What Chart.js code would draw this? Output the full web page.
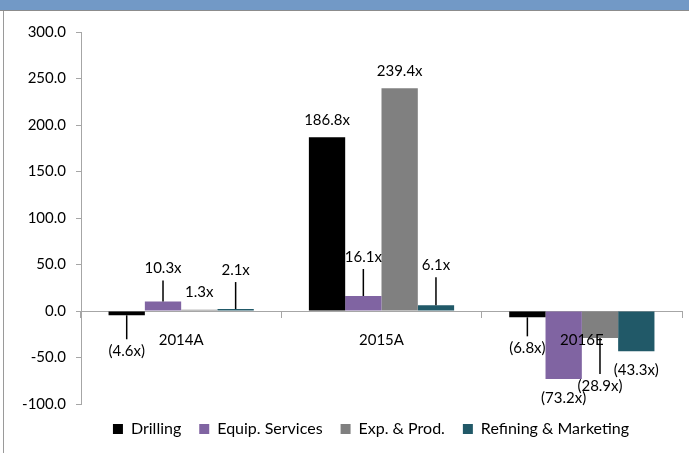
<!DOCTYPE html>
<html>
<head>
<meta charset="utf-8">
<script src="https://cdn.jsdelivr.net/npm/chart.js@4"></script>
<style>
  html, body { margin: 0; padding: 0; background: #fff; }
  #wrap { position: relative; width: 689px; height: 453px; overflow: hidden; }
  #topbar { position: absolute; left: 0; top: 0; width: 689px; height: 10px; background: #7299c6; border-bottom: 1px solid #8c8c8c; }
  #leftline { position: absolute; left: 3px; top: 11px; bottom: 0; width: 1px; background: #9a9a9a; }
  canvas { position: absolute; left: 0; top: 0; }
</style>
</head>
<body>
<div id="wrap">
  <canvas id="chart" width="689" height="453"></canvas>
  <div id="topbar"></div>
  <div id="leftline"></div>
</div>
<script>
const categories = ['2014A', '2015A', '2016E'];
const drilling = [-4.6, 186.8, -6.8];
const equipServices = [10.3, 16.1, -73.2];
const expProd = [1.3, 239.4, -28.9];
const refiningMarketing = [2.1, 6.1, -43.3];
const yTicks = { min: -100, max: 300, step: 50 };

// label placement: pixel offset from the bar end, and whether a leader line is drawn
const labelLayout = [
    { dy: [36, -17, 31], lead: [true, false, true] },
    { dy: [-33, -39, 19], lead: [true, true, false] },
    { dy: [-18, -17, 48], lead: [false, false, true] },
    { dy: [-39, -40, 19], lead: [true, true, false] }
];

const FONT = 'Lato, "Open Sans", sans-serif';

function fmt(v) {
    return v < 0 ? '(' + Math.abs(v).toFixed(1) + 'x)' : v.toFixed(1) + 'x';
}

const leaderLabels = {
    id: 'leaderLabels',
    afterLayout(chart) {
        // centre the legend where the original has it
        const lg = chart.legend;
        lg.left = 60;
        lg.right = 682;
        lg.width = lg.right - lg.left;
        const h = lg.height;
        lg.top = 403;
        lg.bottom = lg.top + h;
    },
    afterDatasetsDraw(chart) {
        const ctx = chart.ctx;
        ctx.save();
        ctx.font = '15px ' + FONT;
        ctx.fillStyle = '#000';
        ctx.textAlign = 'center';
        ctx.textBaseline = 'middle';
        ctx.strokeStyle = '#000';
        ctx.lineWidth = 1.5;
        chart.data.datasets.forEach((ds, di) => {
            const meta = chart.getDatasetMeta(di);
            meta.data.forEach((bar, i) => {
                const v = ds.data[i];
                const dy = labelLayout[di].dy[i];
                const ly = bar.y + dy;
                if (labelLayout[di].lead[i]) {
                    const end = dy > 0 ? ly - 12 : ly + 12;
                    ctx.beginPath();
                    ctx.moveTo(bar.x, bar.y);
                    ctx.lineTo(bar.x, end);
                    ctx.stroke();
                }
                ctx.fillText(fmt(v), bar.x, ly);
            });
        });
        ctx.restore();
    }
};

new Chart(document.getElementById('chart'), {
    type: 'bar',
    data: {
        labels: categories,
        datasets: [
            { label: 'Drilling', data: drilling, backgroundColor: '#000000' },
            { label: 'Equip. Services', data: equipServices, backgroundColor: '#8064a2' },
            { label: 'Exp. & Prod.', data: expProd, backgroundColor: '#808080' },
            { label: 'Refining & Marketing', data: refiningMarketing, backgroundColor: '#215968' }
        ]
    },
    options: {
        responsive: false,
        animation: false,
        layout: { padding: { top: 32, left: 0, right: 7, bottom: 5 } },
        datasets: { bar: { categoryPercentage: 0.725, barPercentage: 1.0 } },
        plugins: {
            legend: {
                position: 'bottom',
                labels: {
                    boxWidth: 10,
                    boxHeight: 10,
                    padding: 18,
                    color: '#000',
                    font: { family: FONT, size: 16 }
                }
            },
            tooltip: { enabled: false }
        },
        scales: {
            x: {
                position: { y: 0 },
                grid: { offset: true, drawOnChartArea: false, tickLength: 6, color: '#a6a6a6' },
                border: { color: '#a6a6a6' },
                ticks: { z: 1, color: '#000', padding: 14, font: { family: FONT, size: 15 } }
            },
            y: {
                min: yTicks.min,
                max: yTicks.max,
                afterFit(scale) { scale.width = 81; },
                grid: { drawOnChartArea: false, tickLength: 5, color: '#a6a6a6' },
                border: { color: '#a6a6a6' },
                ticks: {
                    stepSize: yTicks.step,
                    padding: 10,
                    color: '#000',
                    font: { family: FONT, size: 15 },
                    callback: v => v.toFixed(1)
                }
            }
        }
    },
    plugins: [leaderLabels]
});
</script>
</body>
</html>
